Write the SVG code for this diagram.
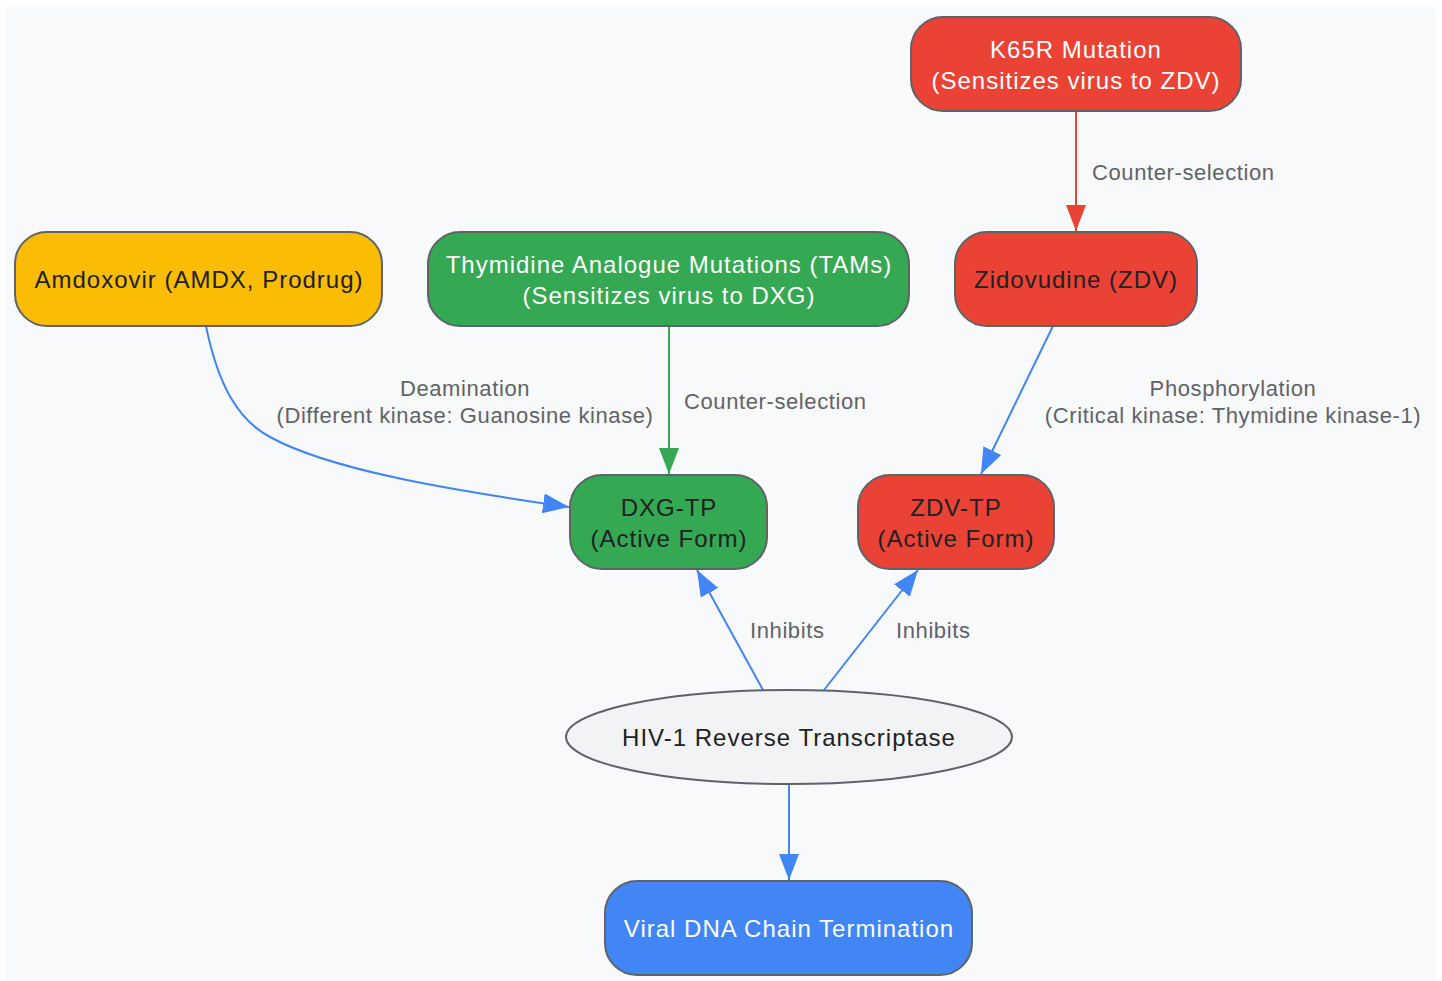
<svg xmlns="http://www.w3.org/2000/svg" width="1442" height="981" viewBox="0 0 1442 981">
<defs>
<style>
.n{stroke:#5f6368;stroke-width:2}
.t{font-family:"Liberation Sans",Arial,sans-serif;font-size:24px;letter-spacing:1px;text-anchor:middle}
.w{fill:#ffffff}
.d{fill:#202124}
.l{font-family:"Liberation Sans",Arial,sans-serif;font-size:22px;letter-spacing:0.6px;fill:#5f6368}
.e{fill:none;stroke-width:2}
</style>
<marker id="ab" markerUnits="userSpaceOnUse" markerWidth="28" markerHeight="22" refX="26" refY="10" orient="auto"><path d="M0,0 L26,10 L0,20 z" fill="#4285f4"/></marker>
<marker id="ar" markerUnits="userSpaceOnUse" markerWidth="28" markerHeight="22" refX="26" refY="10" orient="auto"><path d="M0,0 L26,10 L0,20 z" fill="#ea4335"/></marker>
<marker id="ag" markerUnits="userSpaceOnUse" markerWidth="28" markerHeight="22" refX="26" refY="10" orient="auto"><path d="M0,0 L26,10 L0,20 z" fill="#34a853"/></marker>
</defs>
<rect x="0" y="0" width="1442" height="981" fill="#ffffff"/>
<rect x="5" y="7" width="1431" height="974" fill="#f8f9fa"/>
<g id="connectors">
<path class="e" stroke="#ea4335" d="M1076,111 L1076,231" marker-end="url(#ar)"/>
<text class="l" x="1092" y="180">Counter-selection</text>
<path class="e" stroke="#34a853" d="M669,326 L669,474" marker-end="url(#ag)"/>
<text class="l" x="684" y="409">Counter-selection</text>
<path class="e" stroke="#4285f4" d="M206,326 C218,385 238,420 270,437 C330,470 450,490 569,507" marker-end="url(#ab)"/>
<text class="l" x="465" y="396" text-anchor="middle">Deamination</text>
<text class="l" x="465" y="423" text-anchor="middle">(Different kinase: Guanosine kinase)</text>
<path class="e" stroke="#4285f4" d="M1053,326 L981,474" marker-end="url(#ab)"/>
<text class="l" x="1233" y="396" text-anchor="middle">Phosphorylation</text>
<text class="l" x="1233" y="423" text-anchor="middle">(Critical kinase: Thymidine kinase-1)</text>
<path class="e" stroke="#4285f4" d="M763,690 L697,570" marker-end="url(#ab)"/>
<text class="l" x="750" y="638">Inhibits</text>
<path class="e" stroke="#4285f4" d="M824,690 L918,570" marker-end="url(#ab)"/>
<text class="l" x="896" y="638">Inhibits</text>
<path class="e" stroke="#4285f4" d="M789,784 L789,880" marker-end="url(#ab)"/>
</g>
<g id="k65r">
<rect class="n" x="911" y="17" width="330" height="94" rx="32" fill="#ea4335"/>
<text class="t w" x="1076" y="58">K65R Mutation</text>
<text class="t w" x="1076" y="89">(Sensitizes virus to ZDV)</text>
</g>
<g id="amdx">
<rect class="n" x="15" y="232" width="367" height="94" rx="32" fill="#fbbc04"/>
<text class="t d" x="199" y="288">Amdoxovir (AMDX, Prodrug)</text>
</g>
<g id="tams">
<rect class="n" x="428" y="232" width="481" height="94" rx="32" fill="#34a853"/>
<text class="t w" x="669" y="273">Thymidine Analogue Mutations (TAMs)</text>
<text class="t w" x="669" y="304">(Sensitizes virus to DXG)</text>
</g>
<g id="zdv">
<rect class="n" x="955" y="232" width="242" height="94" rx="32" fill="#ea4335"/>
<text class="t d" x="1076" y="288">Zidovudine (ZDV)</text>
</g>
<g id="dxgtp">
<rect class="n" x="570" y="475" width="197" height="94" rx="32" fill="#34a853"/>
<text class="t d" x="669" y="516">DXG-TP</text>
<text class="t d" x="669" y="547">(Active Form)</text>
</g>
<g id="zdvtp">
<rect class="n" x="858" y="475" width="196" height="94" rx="32" fill="#ea4335"/>
<text class="t d" x="956" y="516">ZDV-TP</text>
<text class="t d" x="956" y="547">(Active Form)</text>
</g>
<g id="rt">
<ellipse class="n" cx="789" cy="737" rx="223" ry="47" fill="#f1f3f4"/>
<text class="t d" x="789" y="746">HIV-1 Reverse Transcriptase</text>
</g>
<g id="term">
<rect class="n" x="605" y="881" width="367" height="94" rx="32" fill="#4285f4"/>
<text class="t w" x="789" y="937">Viral DNA Chain Termination</text>
</g>
</svg>
